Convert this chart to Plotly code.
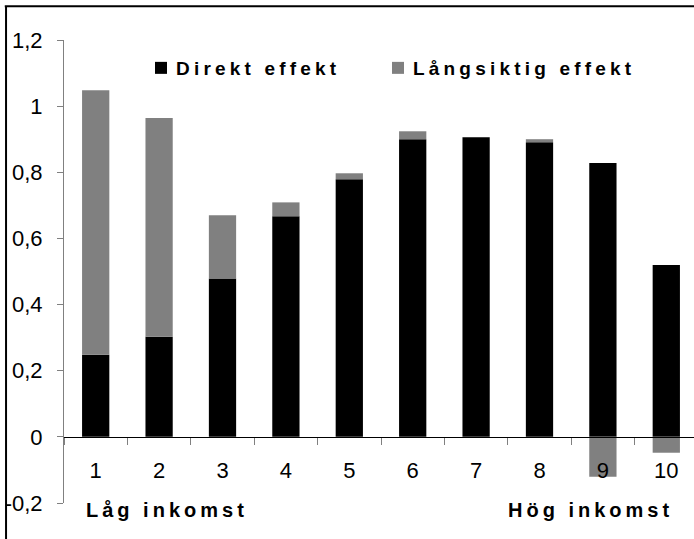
import plotly.graph_objects as go

categories = ["1", "2", "3", "4", "5", "6", "7", "8", "9", "10"]
direkt_effekt = [0.248, 0.303, 0.479, 0.667, 0.779, 0.900, 0.906, 0.891, 0.828, 0.520]
langsiktig_effekt = [0.800, 0.661, 0.191, 0.042, 0.018, 0.024, 0.0, 0.009, -0.121, -0.048]
series_names = ["Direkt effekt", "Långsiktig effekt"]
y_tickvals = [-0.2, 0, 0.2, 0.4, 0.6, 0.8, 1.0, 1.2]
y_ticktext = ["-0,2", "0", "0,2", "0,4", "0,6", "0,8", "1", "1,2"]
low_label = "Låg inkomst"
high_label = "Hög inkomst"

FONT = "Liberation Sans, Arial, sans-serif"
ymin, ymax = -0.2, 1.2

fig = go.Figure()
fig.add_trace(go.Bar(x=categories, y=direkt_effekt, name=series_names[0],
                     marker=dict(color="#000000", line=dict(width=0)), width=0.43))
fig.add_trace(go.Bar(x=categories, y=langsiktig_effekt, name=series_names[1],
                     marker=dict(color="#808080", line=dict(width=0)), width=0.43))

fig.update_layout(
    width=694, height=539,
    margin=dict(l=64, r=0, t=40, b=36, autoexpand=False),
    barmode="relative",
    plot_bgcolor="white", paper_bgcolor="white",
    font=dict(family=FONT, size=22, color="black"),
    showlegend=True,
    legend=dict(orientation="h", x=0.1222, y=0.9395, xanchor="left", yanchor="middle",
                font=dict(family=FONT, size=19, weight="bold", color="black"),
                entrywidth=192, entrywidthmode="pixels", bgcolor="rgba(0,0,0,0)",
                itemclick=False),
    xaxis=dict(type="category", range=[-0.5, 9.437], showgrid=False, zeroline=False,
               showline=True, linecolor="black", linewidth=1,
               ticks="outside", ticklen=7, tickcolor="#808080", tickson="boundaries",
               anchor="free", position=(0 - ymin) / (ymax - ymin), automargin=False,
               ticklabelstandoff=14, tickfont=dict(size=22)),
    yaxis=dict(range=[ymin, ymax], showgrid=False, zeroline=False, automargin=False,
               showline=True, linecolor="#808080", linewidth=1,
               ticks="outside", ticklen=6, tickcolor="#808080",
               tickvals=y_tickvals, ticktext=y_ticktext, tickfont=dict(size=22),
               ticklabelstandoff=10),
    annotations=[
        dict(text=low_label, x=0.1627, y=-0.015, xref="paper", yref="paper",
             xanchor="center", yanchor="middle", showarrow=False,
             font=dict(family=FONT, size=20, weight="bold", color="black")),
        dict(text=high_label, x=0.836, y=-0.015, xref="paper", yref="paper",
             xanchor="center", yanchor="middle", showarrow=False,
             font=dict(family=FONT, size=20, weight="bold", color="black")),
    ],
    shapes=[
        dict(type="line", xref="paper", yref="paper", x0=-0.092, x1=-0.092, y0=1.073, y1=-0.2,
             line=dict(color="black", width=2)),
        dict(type="line", xref="paper", yref="paper", x0=-0.094, x1=1.05, y0=1.073, y1=1.073,
             line=dict(color="black", width=2)),
    ],
)

post = """
document.body.style.margin='0';
document.body.style.padding='0';
var s=document.createElement('style');
s.textContent='body{margin:0 !important}'+
 '.legendtext{letter-spacing:4.2px;transform:translateX(-5px)}'+
 '.legend .scrollbox{clip-path:none !important}'+
 '.annotation-text{letter-spacing:4px}';
document.head.appendChild(s);
"""
fig.write_html("out.html", post_script=post, config={"displayModeBar": False})
